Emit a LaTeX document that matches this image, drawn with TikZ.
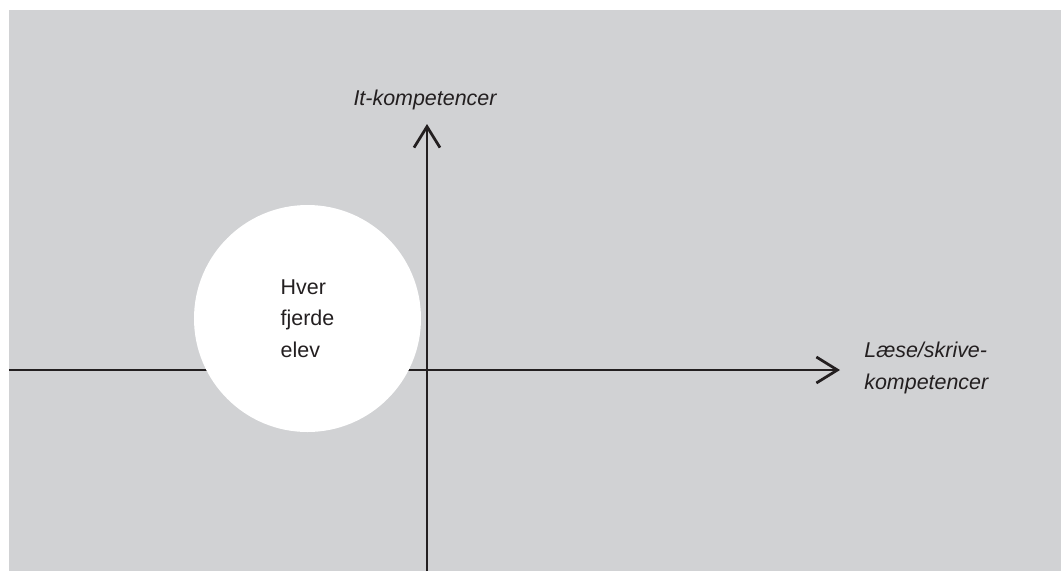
\documentclass[tikz,border=0pt]{standalone}
\usepackage{xcolor}
\usepackage{fontspec}
\setmainfont{Liberation Sans}
\usepackage{tikz}
\usetikzlibrary{shapes, arrows.meta}
\definecolor{bggray}{HTML}{D1D2D4}
\definecolor{ink}{HTML}{231F20}
\tikzstyle{axis} = [draw=ink, line width=0.055cm, -{Straight Barb[length=0.42cm, width=0.52cm, line width=0.055cm]}]
\tikzstyle{axislabel} = [text=ink, inner sep=0, font=\fontsize{12.2}{17.9}\selectfont\itshape, align=left]
\tikzstyle{group} = [circle, fill=white, inner sep=0, minimum size=4.54cm, text=ink, font=\fontsize{12.2}{17.9}\selectfont, align=left]

\begin{document}
\begin{tikzpicture}
        \useasboundingbox (-8.54,-4.02) rectangle (12.68,7.40);
        \fill [bggray] (-8.36,-4.02) rectangle (12.68,7.20);

        \coordinate (xstart) at (-8.36,0);
        \coordinate (xend) at (8.26,0);
        \coordinate (ystart) at (0,-4.02);
        \coordinate (yend) at (0,4.92);

        \node [axislabel] at (-0.04,5.41) (itlabel) {It-kompetencer};
        \node [axislabel, anchor=west] at (8.74,0.04) (laeselabel)
        {Læse/skrive-\\kompetencer};

        \path [axis] (xstart) -- (xend);
        \path [axis] (ystart) -- (yend);

        \node [group] at (-2.39,1.03) (elev) {Hver\\fjerde\\elev};
    \end{tikzpicture}
\end{document}
